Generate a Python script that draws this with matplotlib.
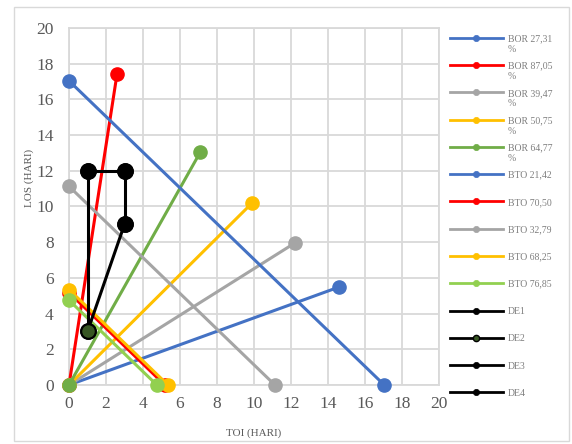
import matplotlib
matplotlib.use("Agg")
import matplotlib.pyplot as plt
from matplotlib.lines import Line2D
from matplotlib.patches import Rectangle

plt.rcParams['font.family'] = ['Liberation Serif', 'DejaVu Serif']

# BOR lines: from the origin to the end point (TOI, LOS)
bor_labels = ["BOR 27,31 %", "BOR 87,05 %", "BOR 39,47 %", "BOR 50,75 %", "BOR 64,77 %"]
bor_end_toi = [14.6, 2.6, 12.2, 9.9, 7.1]
bor_end_los = [5.49, 17.45, 7.95, 10.2, 13.05]
bor_colors = ["#4472C4", "#FF0000", "#A5A5A5", "#FFC000", "#70AD47"]

# BTO lines: LOS + TOI = 365 / BTO, drawn from (0, c) to (c, 0)
bto_labels = ["BTO 21,42", "BTO 70,50", "BTO 32,79", "BTO 68,25", "BTO 76,85"]
bto_intercept = [17.04, 5.18, 11.13, 5.35, 4.75]
bto_colors = ["#4472C4", "#FF0000", "#A5A5A5", "#FFC000", "#92D050"]

# Efficient area boundaries
de_labels = ["DE1", "DE2", "DE3", "DE4"]
de_toi = [[1, 1], [1, 3], [1, 3], [3, 3]]
de_los = [[3, 12], [3, 9], [12, 12], [12, 9]]
de_face = ["black", "#375623", "black", "black"]

x_ticks = [0, 2, 4, 6, 8, 10, 12, 14, 16, 18, 20]
y_ticks = [0, 2, 4, 6, 8, 10, 12, 14, 16, 18, 20]

W, H = 572, 444
fig = plt.figure(figsize=(W / 100, H / 100), dpi=100)

# chart area border
fig.patches.append(Rectangle((14 / W, 1 - 441 / H), 555 / W, 434 / H,
                             transform=fig.transFigure, fill=False,
                             edgecolor="#D9D9D9", lw=1.0))

ax = fig.add_axes([69 / W, 1 - 385 / H, 370 / W, 357 / H])
grid_c = "#D9D9D9"
ax.set_xlim(0, 20)
ax.set_ylim(0, 20)
ax.set_xticks(x_ticks)
ax.set_yticks(y_ticks)
ax.grid(True, color=grid_c, lw=1.3)
ax.set_axisbelow(True)
for s in ax.spines.values():
    s.set_color(grid_c)
    s.set_linewidth(1.3)
ax.tick_params(length=0, labelsize=12.5, labelcolor="#595959")
ax.tick_params(axis='y', pad=11)
ax.tick_params(axis='x', pad=8)

LW = 2.2
MS = 9.5
entries = []

for lab, tx, ly, c in zip(bor_labels, bor_end_toi, bor_end_los, bor_colors):
    ax.plot([0, tx], [0, ly], color=c, lw=LW, marker='o', ms=MS,
            mfc=c, mec=c, clip_on=False, zorder=3)
    entries.append((lab, c, c, c))

for lab, b, c in zip(bto_labels, bto_intercept, bto_colors):
    ax.plot([0, b], [b, 0], color=c, lw=LW, marker='o', ms=MS,
            mfc=c, mec=c, clip_on=False, zorder=3)
    entries.append((lab, c, c, c))

for i in [0, 2, 1, 3]:
    ax.plot(de_toi[i], de_los[i], color="black", lw=LW, marker='o', ms=10.5,
            mfc=de_face[i], mec="black", mew=1.5, clip_on=False, zorder=4)
for lab, fc in zip(de_labels, de_face):
    entries.append((lab, "black", fc, "black"))

# axis titles
fig.text(254 / W, 1 - 433 / H, "TOI (HARI)", fontsize=8, color="#595959",
         ha='center', va='center')
fig.text(29 / W, 1 - 178 / H, "LOS (HARI)", fontsize=8, color="#595959",
         ha='center', va='center', rotation=90)

# legend column; long labels wrap onto a second line
y0, dy, line_gap = 38, 27.25, 10.5
for k, (lab, lc, fc, ec) in enumerate(entries):
    yp = y0 + k * dy
    yf = 1 - yp / H
    fig.lines.append(Line2D([450 / W, 503 / W], [yf, yf], transform=fig.transFigure,
                            color=lc, lw=2.0))
    fig.lines.append(Line2D([476 / W], [yf], transform=fig.transFigure,
                            marker='o', ms=4.5, mfc=fc, mec=ec,
                            mew=1.0 if fc != ec else 0.5, lw=0))
    parts = lab.split(" %")
    lines = [parts[0]] + (["%"] if len(parts) > 1 else [])
    for j, t in enumerate(lines):
        fig.text(508 / W, 1 - (yp + j * line_gap) / H, t, fontsize=7,
                 color="#7F7F7F", ha='left', va='center_baseline')

fig.savefig("out.png", dpi=100)
